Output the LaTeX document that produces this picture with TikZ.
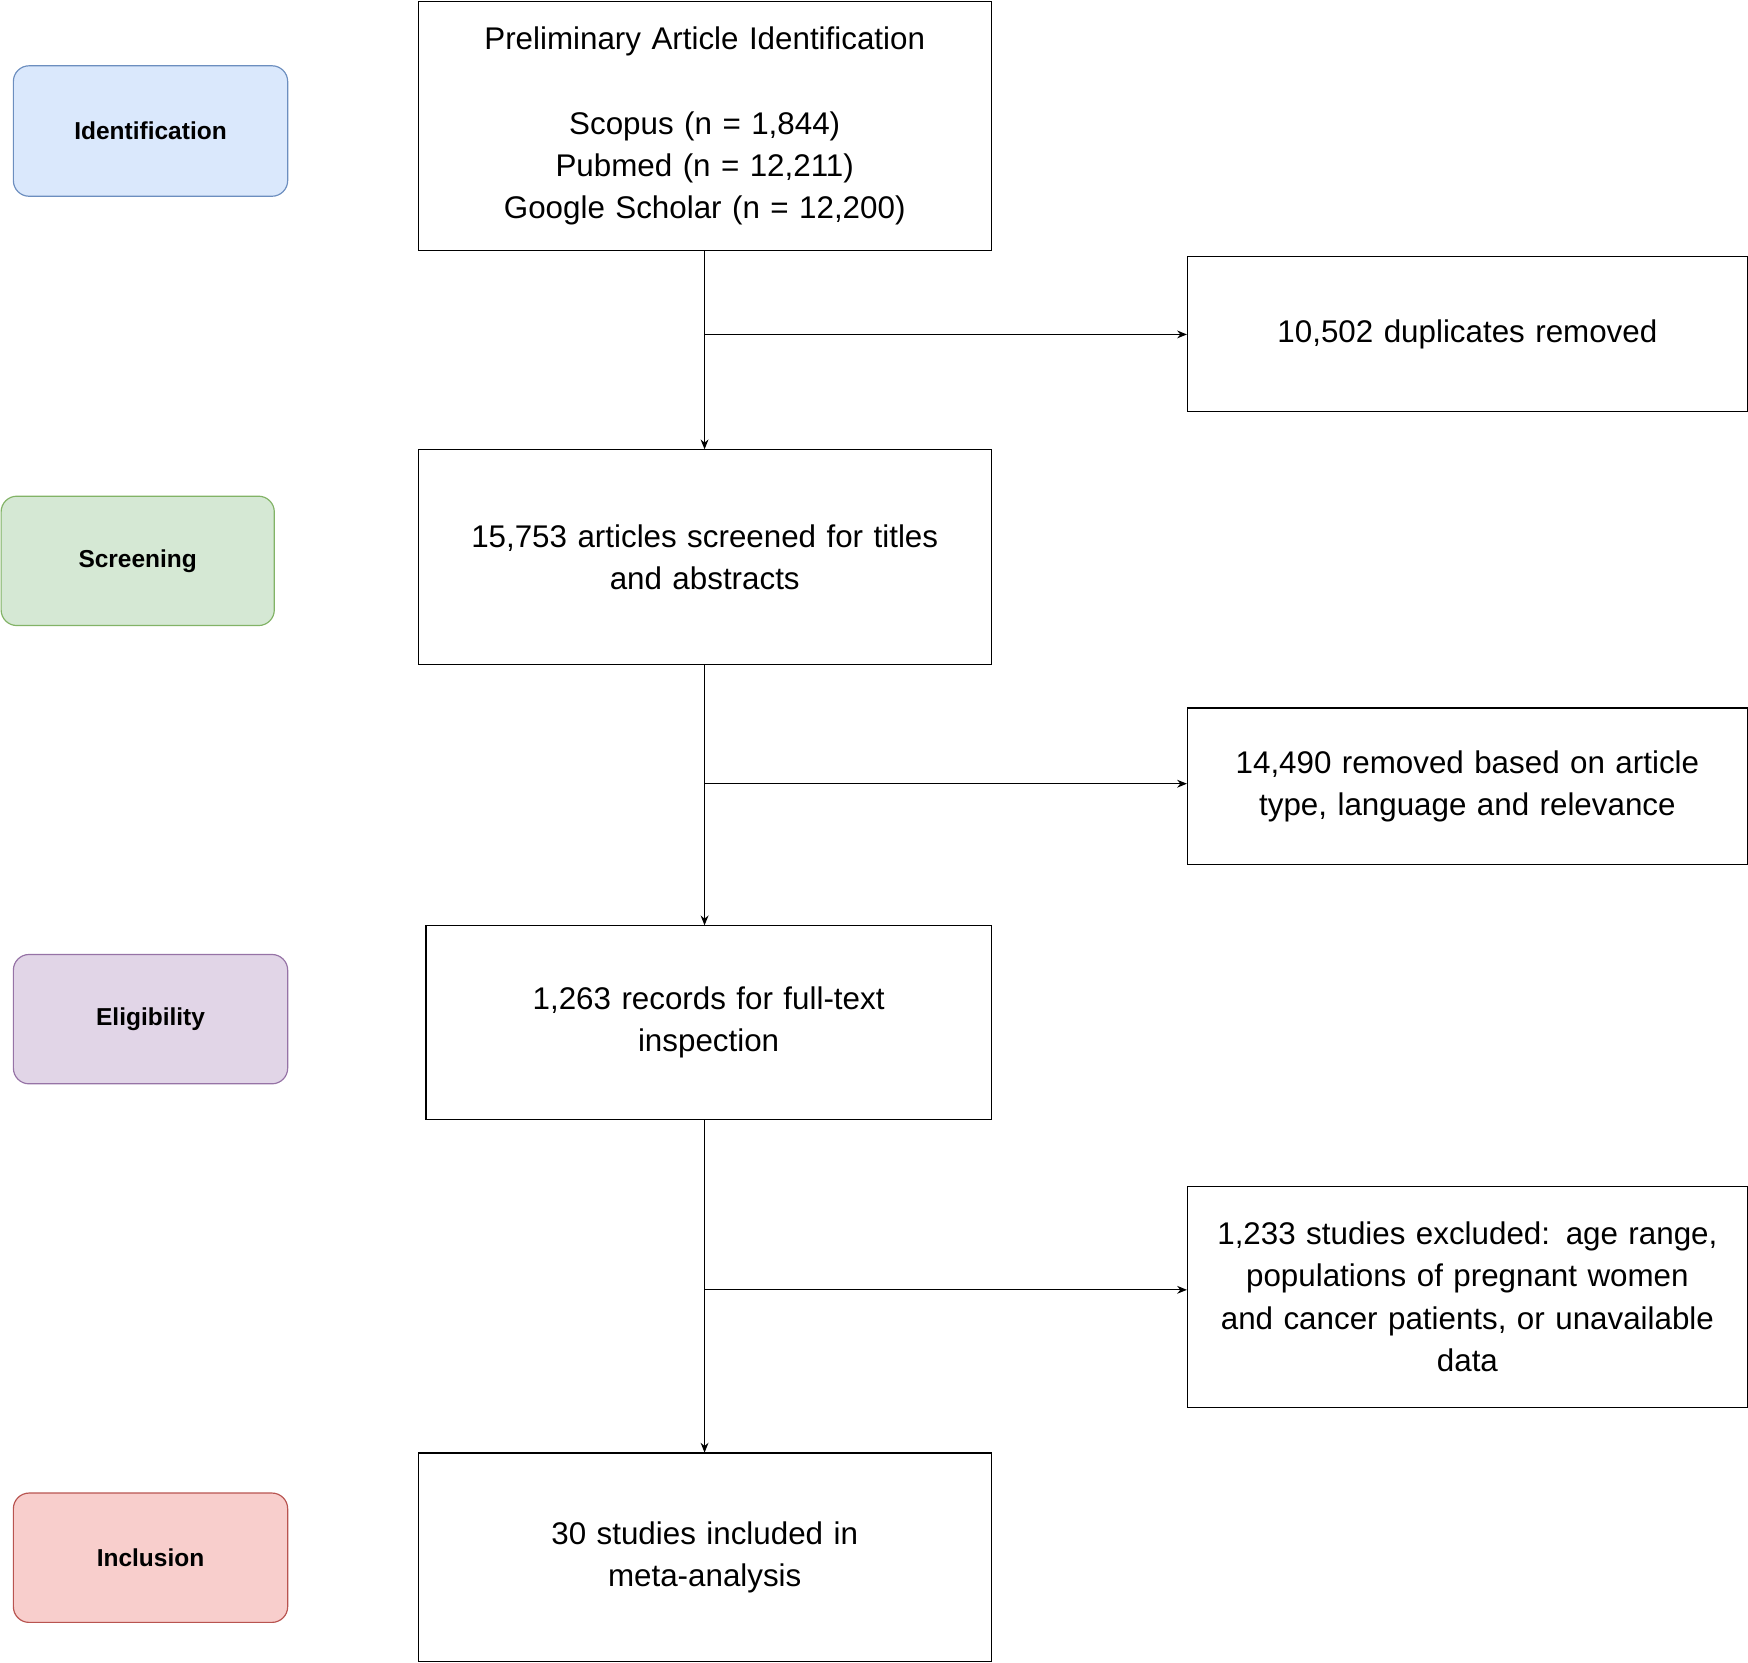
\documentclass[tikz,border=0pt]{standalone}
\usepackage{fontspec}
\setmainfont{Liberation Sans}
\usetikzlibrary{arrows.meta}
\definecolor{bI}{HTML}{DAE8FC}\definecolor{dI}{HTML}{6C8EBF}
\definecolor{bS}{HTML}{D5E8D4}\definecolor{dS}{HTML}{82B366}
\definecolor{bE}{HTML}{E1D5E7}\definecolor{dE}{HTML}{9673A6}
\definecolor{bN}{HTML}{F8CECC}\definecolor{dN}{HTML}{B85450}
\tikzset{
 stage/.style={draw=#1,rounded corners=8pt,line width=0.6pt,font=\fontsize{12.5}{15}\selectfont\bfseries},
 box/.style={draw,line width=0.6pt,font=\fontsize{16}{21.5}\selectfont,align=center},
 arr/.style={-{Stealth[length=5pt,width=4pt]},line width=0.6pt}
}
\newcommand{\bx}[6]{\node[#6,minimum width={(#3-#2)*0.02cm},minimum height={(#5-#4)*0.02cm},inner sep=2pt] (#1) at ({(#2+#3)/2*0.02},{-(#4+#5)/2*0.02})}
\begin{document}
\begin{tikzpicture}
\useasboundingbox (0,0) rectangle (31.36,-29.82);
\bx{sI}{12}{258}{59}{176}{stage=dI,fill=bI}{Identification};
\bx{sS}{1}{246}{445}{561}{stage=dS,fill=bS}{Screening};
\bx{sE}{12}{258}{856}{972}{stage=dE,fill=bE}{Eligibility};
\bx{sN}{12}{258}{1339}{1455}{stage=dN,fill=bN}{Inclusion};
\bx{b1}{375}{889}{1}{225}{box,text width=9.8cm}{Preliminary Article Identification\\[21.5pt]Scopus (n = 1,844)\\Pubmed (n = 12,211)\\Google Scholar (n = 12,200)};
\bx{d1}{1065}{1567}{230}{369}{box,text width=9.8cm}{10,502 duplicates removed};
\bx{b2}{375}{889}{403}{596}{box,text width=9.8cm}{15,753 articles screened for titles\\and abstracts};
\bx{d2}{1065}{1567}{635}{775}{box,text width=9.8cm}{14,490 removed based on article\\type, language and relevance};
\bx{b3}{382}{889}{830}{1004}{box,text width=9.8cm}{1,263 records for full-text\\inspection};
\bx{d3}{1065}{1567}{1064}{1262}{box,text width=9.9cm}{1,233 studies excluded: age range,\\populations of pregnant women\\and cancer patients, or unavailable\\data};
\bx{b4}{375}{889}{1303}{1490}{box,text width=9.8cm}{30 studies included in\\meta-analysis};
\draw[arr] (12.64,-4.5) -- (12.64,-8.06);
\draw[arr] (12.64,-6.0) -- (d1.west|-0,-6.0);
\draw[arr] (12.64,-11.92) -- (12.64,-16.6);
\draw[arr] (12.64,-14.06) -- (d2.west|-0,-14.06);
\draw[arr] (12.64,-20.08) -- (12.64,-26.06);
\draw[arr] (12.64,-23.14) -- (d3.west|-0,-23.14);
\end{tikzpicture}
\end{document}
